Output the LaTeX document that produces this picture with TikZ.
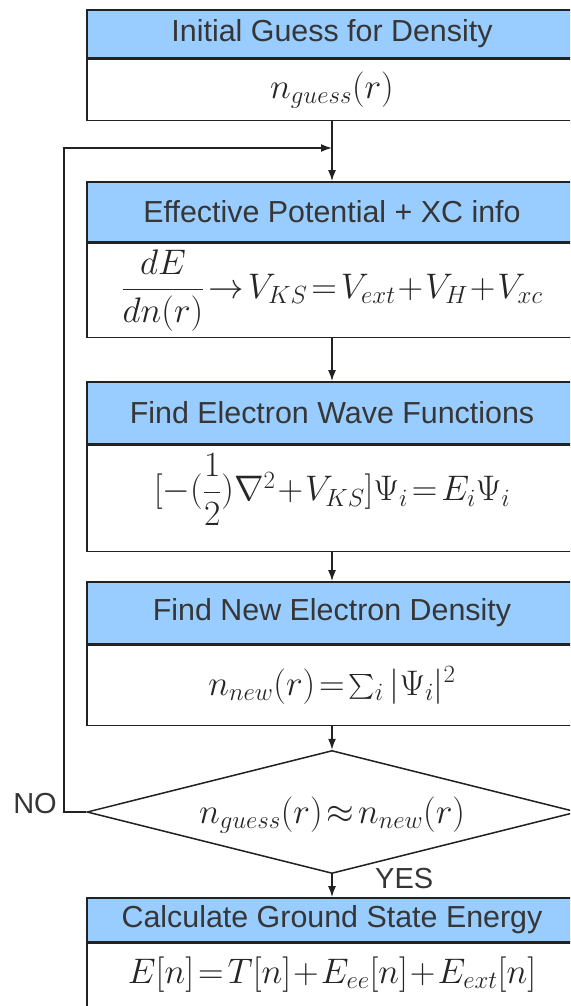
\documentclass[tikz,border=0pt]{standalone}
\usepackage{fix-cm}
\usepackage{fontspec}
\usepackage{amsmath}
\usetikzlibrary{shapes.geometric,arrows.meta}
\newfontfamily\headfont{Liberation Sans}
\definecolor{headblue}{HTML}{99CCFF}
\definecolor{inkgray}{HTML}{363636}
\definecolor{linegray}{HTML}{222222}

\begin{document}
\begin{tikzpicture}[x=1pt, y=-1pt,
  head/.style={rectangle, draw=linegray, line width=1.8pt, fill=headblue, minimum width=490pt, inner sep=0pt, text=inkgray, font=\headfont\fontsize{30.4}{36}\selectfont},
  body/.style={rectangle, draw=linegray, line width=1.5pt, fill=white, minimum width=490pt, inner sep=0pt},
  eqn/.style={inner sep=0pt, text=black!85, font=\fontsize{35.5}{42}\selectfont},
  lbl/.style={inner sep=0pt, text=inkgray, font=\headfont\fontsize{29}{34}\selectfont},
  decide/.style={diamond, draw=linegray, line width=1.5pt, fill=white, minimum width=490pt, minimum height=123pt, inner sep=0pt},
  flow/.style={->, line width=1.5pt, draw=linegray},
  >={Latex[length=11pt, width=8pt]}]
  \useasboundingbox (0,0) rectangle (570,1006);
  \clip (0,0) rectangle (570,1006);
  % Initial guess
  \node[head, minimum height=48pt] (h1) at (332,34) {Initial Guess for Density};
  \node[body, minimum height=61pt, anchor=north] (b1) at (h1.south) {};
  \node[eqn] (f1) at (b1.center) {$n_{guess}(r)$};
  % Effective potential
  \node[head, minimum height=60pt] (h2) at (332,212) {Effective Potential + XC info};
  \node[body, minimum height=94pt, anchor=north] (b2) at (h2.south) {};
  \node[eqn] (f2) at (b2.center) {$\dfrac{dE}{dn(r)}\!\rightarrow\! V_{KS}\!=\!V_{ext}\!+\!V_{H}\!+\!V_{xc}$};
  % Wave functions
  \node[head, minimum height=62pt] (h3) at (332,413) {Find Electron Wave Functions};
  \node[body, minimum height=106pt, anchor=north] (b3) at (h3.south) {};
  \node[eqn] (f3) at ([yshift=9pt]b3.center) {$[-(\dfrac{1}{2})\nabla^2\!+\!V_{KS}]\Psi_i\!=\!E_i\Psi_i$};
  % New density
  \node[head, minimum height=62pt] (h4) at (332,613) {Find New Electron Density};
  \node[body, minimum height=80pt, anchor=north] (b4) at (h4.south) {};
  \node[eqn] (f4) at (b4.center) {$n_{new}(r)\!=\!\textstyle\sum_i|\Psi_i|^2$};
  % Convergence test
  \node[decide] (dia) at (332,812) {};
  \node[eqn] (f5) at ([yshift=-3pt]dia.center) {$n_{guess}(r)\!\approx\! n_{new}(r)$};
  % Ground state energy
  \node[head, minimum height=44pt] (h5) at (332,920) {Calculate Ground State Energy};
  \node[body, minimum height=88pt, anchor=north] (b5) at (h5.south) {};
  \node[eqn] (f6) at ([yshift=13pt]b5.center) {$E[n]\!=\!T[n]\!+\!E_{ee}[n]\!+\!E_{ext}[n]$};
  % Arrows down the chain
  \draw[flow] (b1) -- (h2);
  \draw[flow] (b2) -- (h3);
  \draw[flow] (b3) -- (h4);
  \draw[flow] (b4) -- (dia);
  \draw[flow] (dia) -- (h5);
  % Loop back when not converged
  \coordinate (turn) at (64,812);
  \coordinate (join) at (332,148);
  \draw[flow] (dia.west) -- (turn) |- (join);
  \node[lbl, anchor=base east] (no) at (57,813) {NO};
  \node[lbl, anchor=base west] (yes) at (375,888) {YES};
\end{tikzpicture}
\end{document}
